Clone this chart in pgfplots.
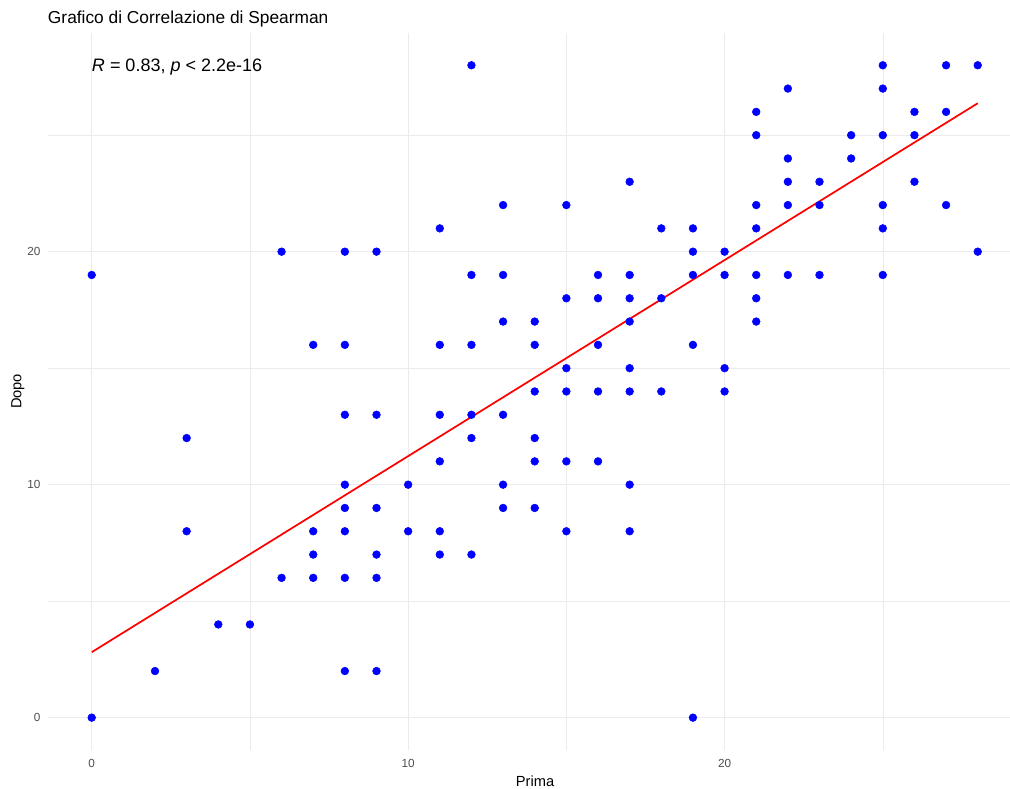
\documentclass[border=0pt]{standalone}
\usepackage{pgfplots}
\pgfplotsset{compat=1.18}
\usepackage{pgfplotstable}
\usepackage{fontspec}
\setmainfont{Liberation Sans}
\definecolor{gridc}{HTML}{EBEBEB}
\definecolor{tickc}{HTML}{4D4D4D}
\pgfplotstableread{
x y
0 19
0 0
2 2
3 12
3 8
4 4
5 4
6 20
6 6
7 16
7 8
7 7
7 6
8 20
8 16
8 13
8 10
8 9
8 8
8 6
8 2
9 20
9 13
9 9
9 7
9 6
9 2
10 10
10 8
11 21
11 16
11 13
11 11
11 8
11 7
12 28
12 19
12 16
12 13
12 12
12 7
13 22
13 19
13 17
13 13
13 10
13 9
14 17
14 16
14 14
14 12
14 11
14 9
15 22
15 18
15 15
15 14
15 11
15 8
16 19
16 18
16 16
16 14
16 11
17 23
17 19
17 18
17 17
17 15
17 14
17 10
17 8
18 21
18 18
18 14
19 21
19 20
19 19
19 16
19 0
20 20
20 19
20 15
20 14
21 26
21 25
21 22
21 21
21 19
21 18
21 17
22 27
22 24
22 23
22 22
22 19
23 23
23 22
23 19
24 25
24 24
25 28
25 27
25 25
25 22
25 21
25 19
26 26
26 25
26 23
27 28
27 26
27 22
28 28
28 20
}\pts
\begin{document}
\begin{tikzpicture}
\useasboundingbox (-35.8pt,-29.0pt) rectangle (721.7pt,562.7pt);
\begin{axis}[
  at={(0pt,0pt)}, anchor=south west,
  scale only axis, width=721.7pt, height=538.2pt,
  xmin=-1.39, xmax=29.02, ymin=-1.4, ymax=29.4,
  xtick={0,10,20}, ytick={0,10,20},
  minor xtick={5,15,25}, minor ytick={5,15,25},
  grid=both,
  major grid style={color=gridc, line width=0.8pt},
  minor grid style={color=gridc, line width=0.4pt},
  major tick length=0pt, minor tick length=0pt,
  tick style={draw=none},
  axis line style={draw=none},
  /pgf/number format/assume math mode=true,
  ticklabel style={font=\fontsize{8.8}{10}\selectfont, text=tickc},
  xticklabel style={anchor=north, inner sep=0pt, yshift=-6.5pt},
  yticklabel style={anchor=east, inner sep=0pt, xshift=-5.3pt},
]
\addplot[only marks, mark=*, mark size=2.9pt, mark options={draw=blue, fill=blue, line width=0.4pt}] table[x=x, y=y] {\pts};
\addplot[red, line width=1.3pt] coordinates {(0,2.81) (28,26.37)};
\end{axis}
\node[anchor=base west, inner sep=0pt, font=\fontsize{13}{15}\selectfont] at (0pt,545pt) {Grafico di Correlazione di Spearman};
\node[anchor=base west, inner sep=0pt, font=\fontsize{13.5}{16}\selectfont] at (33pt,509pt) {\textit{R} = 0.83, \textit{p} < 2.2e-16};
\node[anchor=base, inner sep=0pt, font=\fontsize{11}{13}\selectfont] at (365.5pt,-26.8pt) {Prima};
\node[anchor=base, rotate=90, inner sep=0pt, font=\fontsize{11}{13}\selectfont] at (-19.7pt,269.1pt) {Dopo};
\end{tikzpicture}
\end{document}
